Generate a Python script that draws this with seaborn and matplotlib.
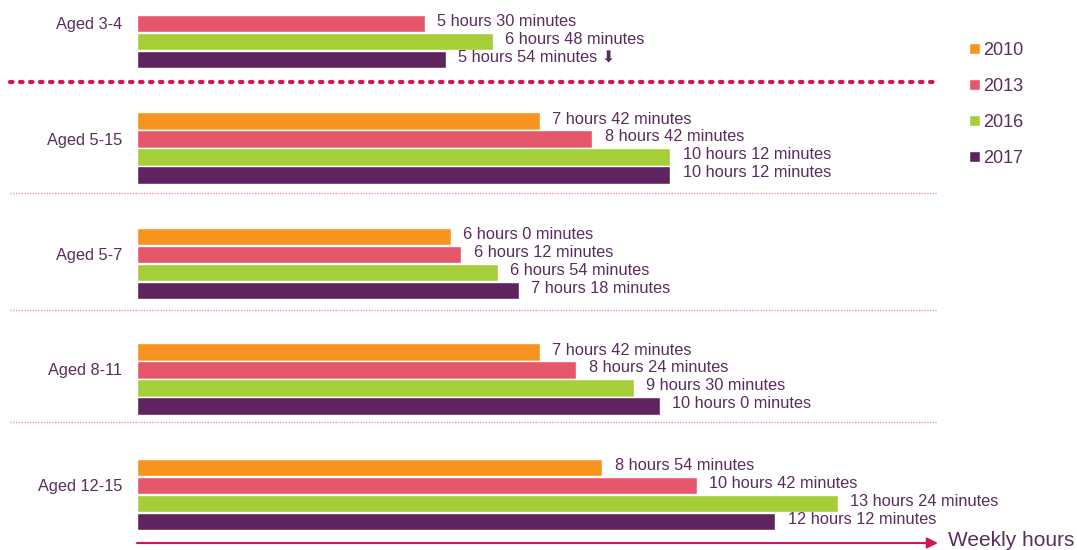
import numpy as np
import pandas as pd
import matplotlib
matplotlib.use("Agg")
import matplotlib.pyplot as plt
import seaborn as sns

groups = ["Aged 3-4", "Aged 5-15", "Aged 5-7", "Aged 8-11", "Aged 12-15"]
years = ["2010", "2013", "2016", "2017"]
# weekly hours per group, one list per year
h2010 = [np.nan, 7.7, 6.0, 7.7, 8.9]
h2013 = [5.5, 8.7, 6.2, 8.4, 10.7]
h2016 = [6.8, 10.2, 6.9, 9.5, 13.4]
h2017 = [5.9, 10.2, 7.3, 10.0, 12.2]

colors = ["#F7941D", "#E5566A", "#A6CE39", "#5F2360"]
text_color = "#5A2D5F"

rows = []
for yr, vals in zip(years, [h2010, h2013, h2016, h2017]):
    for g, v in zip(groups, vals):
        if not np.isnan(v):
            rows.append({"group": g, "year": yr, "hours": v})
df = pd.DataFrame(rows)

sns.set_theme(style="white")
plt.rcParams["font.family"] = ["Liberation Sans", "DejaVu Sans"]

fig = plt.figure(figsize=(10.77, 5.5), dpi=100)
ax = fig.add_axes([0, 0, 1, 1])

sns.barplot(data=df, y="group", x="hours", hue="year", order=groups,
            hue_order=years, palette=colors, orient="h", width=0.62,
            saturation=1, gap=0.02, ax=ax, legend=True)

px_per_h = 52.3
x0 = -137 / px_per_h
ax.set_xlim(x0, x0 + 1077 / px_per_h)
pitch = 115.5
ax.set_ylim((550 - 32.5) / pitch, -32.5 / pitch)
ax.axis("off")

# value labels
def fmt(h):
    tot = int(round(h * 60))
    return f"{tot // 60} hours {tot % 60} minutes"

for cont, yr in zip(ax.containers, years):
    for bar in cont:
        w = bar.get_width()
        if np.isnan(w) or w == 0:
            continue
        yc = bar.get_y() + bar.get_height() / 2
        txt = fmt(w)
        if yr == "2017" and yc < 0.5:
            txt = txt + " \u2B07"
        ax.annotate(txt, xy=(w, yc), xytext=(9, 1.5), textcoords="offset points",
                    ha="left", va="center", fontsize=11.8, color=text_color)

# group labels
for i, g in enumerate(groups):
    ax.text(-15 / px_per_h, i - 8 / pitch, g, ha="right", va="center",
            fontsize=11.8, color=text_color)

# separators
ax.plot([-127 / px_per_h, 800 / px_per_h], [(82 - 32.5) / pitch] * 2,
        color="#D4145A", lw=3, linestyle=(0, (0.6, 1.8)),
        dash_capstyle="round", solid_capstyle="round")
for ypx in [193, 310, 422]:
    ax.plot([-127 / px_per_h, 800 / px_per_h], [(ypx - 32.5) / pitch] * 2,
            color="#EE9CBC", lw=1, linestyle=(0, (1, 1)))

# axis arrow
ya = (543 - 32.5) / pitch
ax.annotate("", xy=(801 / px_per_h, ya), xytext=(0, ya),
            arrowprops=dict(arrowstyle="-|>", color="#D4145A", lw=1.5,
                            mutation_scale=16, shrinkA=0, shrinkB=0))
ax.text(811 / px_per_h, ya - 2 / pitch, "Weekly hours", ha="left", va="center",
        fontsize=15, color=text_color)

# legend
handles, labels = ax.get_legend_handles_labels()
ax.legend(handles, labels, loc="upper left", bbox_to_anchor=(960 / 1077, 1 - 33 / 550),
          bbox_transform=fig.transFigure, frameon=False, fontsize=13,
          handlelength=0.6, handleheight=0.6, handletextpad=0.2,
          labelspacing=1.05, labelcolor=text_color, borderpad=0)

fig.savefig("out.png", dpi=100)
